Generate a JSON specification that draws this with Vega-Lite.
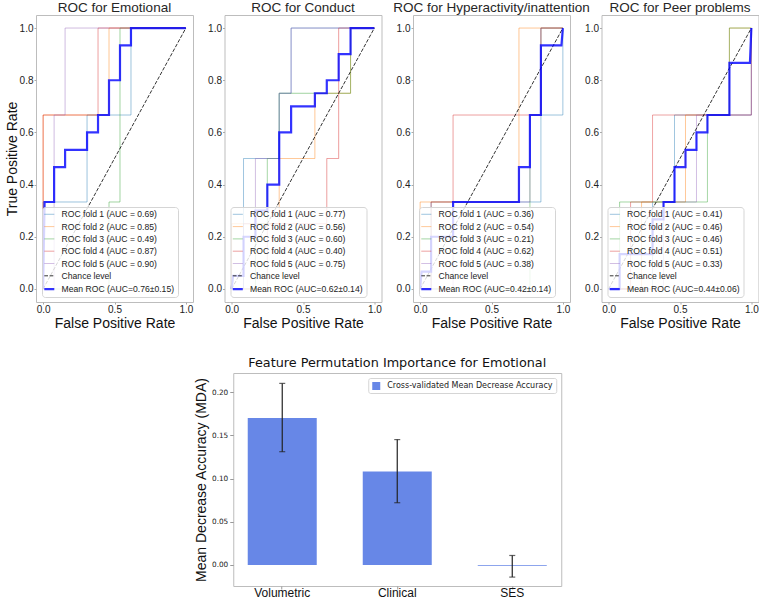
{
  "$schema": "https://vega.github.io/schema/vega-lite/v6.json",
  "background": "white",
  "padding": {"left": 4, "top": 0, "right": 0, "bottom": 0},
  "config": {
    "view": {"stroke": "#bdbdbd", "strokeWidth": 1},
    "axis": {"grid": false, "domain": false, "tickColor": "#aaaaaa", "tickSize": 2, "labelColor": "#222222", "titleColor": "#111111", "titleFontWeight": "normal", "labelFont": "Liberation Sans", "titleFont": "Liberation Sans"},
    "title": {"font": "Liberation Sans", "fontWeight": "normal", "fontSize": 13.5, "color": "#262626", "offset": 1}
  },
  "datasets": {
    "series": [
      {"id": "E1", "p": "E", "k": 1, "s": "ROC fold 1 (AUC = 0.69)"},
      {"id": "E2", "p": "E", "k": 2, "s": "ROC fold 2 (AUC = 0.85)"},
      {"id": "E3", "p": "E", "k": 3, "s": "ROC fold 3 (AUC = 0.49)"},
      {"id": "E4", "p": "E", "k": 4, "s": "ROC fold 4 (AUC = 0.87)"},
      {"id": "E5", "p": "E", "k": 5, "s": "ROC fold 5 (AUC = 0.90)"},
      {"id": "E6", "p": "E", "k": 6, "s": "Chance level"},
      {"id": "E7", "p": "E", "k": 7, "s": "Mean ROC (AUC=0.76±0.15)"},
      {"id": "C1", "p": "C", "k": 1, "s": "ROC fold 1 (AUC = 0.77)"},
      {"id": "C2", "p": "C", "k": 2, "s": "ROC fold 2 (AUC = 0.56)"},
      {"id": "C3", "p": "C", "k": 3, "s": "ROC fold 3 (AUC = 0.60)"},
      {"id": "C4", "p": "C", "k": 4, "s": "ROC fold 4 (AUC = 0.40)"},
      {"id": "C5", "p": "C", "k": 5, "s": "ROC fold 5 (AUC = 0.75)"},
      {"id": "C6", "p": "C", "k": 6, "s": "Chance level"},
      {"id": "C7", "p": "C", "k": 7, "s": "Mean ROC (AUC=0.62±0.14)"},
      {"id": "H1", "p": "H", "k": 1, "s": "ROC fold 1 (AUC = 0.36)"},
      {"id": "H2", "p": "H", "k": 2, "s": "ROC fold 2 (AUC = 0.54)"},
      {"id": "H3", "p": "H", "k": 3, "s": "ROC fold 3 (AUC = 0.21)"},
      {"id": "H4", "p": "H", "k": 4, "s": "ROC fold 4 (AUC = 0.62)"},
      {"id": "H5", "p": "H", "k": 5, "s": "ROC fold 5 (AUC = 0.38)"},
      {"id": "H6", "p": "H", "k": 6, "s": "Chance level"},
      {"id": "H7", "p": "H", "k": 7, "s": "Mean ROC (AUC=0.42±0.14)"},
      {"id": "P1", "p": "P", "k": 1, "s": "ROC fold 1 (AUC = 0.41)"},
      {"id": "P2", "p": "P", "k": 2, "s": "ROC fold 2 (AUC = 0.46)"},
      {"id": "P3", "p": "P", "k": 3, "s": "ROC fold 3 (AUC = 0.46)"},
      {"id": "P4", "p": "P", "k": 4, "s": "ROC fold 4 (AUC = 0.51)"},
      {"id": "P5", "p": "P", "k": 5, "s": "ROC fold 5 (AUC = 0.33)"},
      {"id": "P6", "p": "P", "k": 6, "s": "Chance level"},
      {"id": "P7", "p": "P", "k": 7, "s": "Mean ROC (AUC=0.44±0.06)"}
    ],
    "roc": [
      {"id": "E1", "x": 0, "y": 0}, {"id": "E1", "x": 0, "y": 0.3333}, {"id": "E1", "x": 0.3077, "y": 0.3333}, {"id": "E1", "x": 0.3077, "y": 0.6667}, {"id": "E1", "x": 0.6154, "y": 0.6667}, {"id": "E1", "x": 0.6154, "y": 1}, {"id": "E1", "x": 1, "y": 1},
      {"id": "E2", "x": 0, "y": 0}, {"id": "E2", "x": 0, "y": 0.6667}, {"id": "E2", "x": 0.4615, "y": 0.6667}, {"id": "E2", "x": 0.4615, "y": 1}, {"id": "E2", "x": 1, "y": 1},
      {"id": "E3", "x": 0, "y": 0}, {"id": "E3", "x": 0.4615, "y": 0}, {"id": "E3", "x": 0.4615, "y": 0.3333}, {"id": "E3", "x": 0.5385, "y": 0.3333}, {"id": "E3", "x": 0.5385, "y": 1}, {"id": "E3", "x": 1, "y": 1},
      {"id": "E4", "x": 0, "y": 0}, {"id": "E4", "x": 0, "y": 0.6667}, {"id": "E4", "x": 0.3846, "y": 0.6667}, {"id": "E4", "x": 0.3846, "y": 1}, {"id": "E4", "x": 1, "y": 1},
      {"id": "E5", "x": 0, "y": 0}, {"id": "E5", "x": 0.0769, "y": 0}, {"id": "E5", "x": 0.0769, "y": 0.6667}, {"id": "E5", "x": 0.1538, "y": 0.6667}, {"id": "E5", "x": 0.1538, "y": 1}, {"id": "E5", "x": 1, "y": 1},
      {"id": "E6", "x": 0, "y": 0}, {"id": "E6", "x": 1, "y": 1},
      {"id": "E7", "x": 0, "y": 0}, {"id": "E7", "x": 0.0101, "y": 0.3333}, {"id": "E7", "x": 0.0769, "y": 0.3333}, {"id": "E7", "x": 0.0769, "y": 0.4667}, {"id": "E7", "x": 0.1538, "y": 0.4667}, {"id": "E7", "x": 0.1538, "y": 0.5333}, {"id": "E7", "x": 0.3077, "y": 0.5333}, {"id": "E7", "x": 0.3077, "y": 0.6}, {"id": "E7", "x": 0.3846, "y": 0.6}, {"id": "E7", "x": 0.3846, "y": 0.6667}, {"id": "E7", "x": 0.4615, "y": 0.6667}, {"id": "E7", "x": 0.4615, "y": 0.8}, {"id": "E7", "x": 0.5385, "y": 0.8}, {"id": "E7", "x": 0.5385, "y": 0.9333}, {"id": "E7", "x": 0.6154, "y": 0.9333}, {"id": "E7", "x": 0.6154, "y": 1}, {"id": "E7", "x": 1, "y": 1},

      {"id": "C1", "x": 0, "y": 0}, {"id": "C1", "x": 0.0833, "y": 0}, {"id": "C1", "x": 0.0833, "y": 0.5}, {"id": "C1", "x": 0.3333, "y": 0.5}, {"id": "C1", "x": 0.3333, "y": 0.75}, {"id": "C1", "x": 0.4167, "y": 0.75}, {"id": "C1", "x": 0.4167, "y": 1}, {"id": "C1", "x": 1, "y": 1},
      {"id": "C2", "x": 0, "y": 0}, {"id": "C2", "x": 0, "y": 0.25}, {"id": "C2", "x": 0.3333, "y": 0.25}, {"id": "C2", "x": 0.3333, "y": 0.5}, {"id": "C2", "x": 0.5833, "y": 0.5}, {"id": "C2", "x": 0.5833, "y": 0.75}, {"id": "C2", "x": 0.8333, "y": 0.75}, {"id": "C2", "x": 0.8333, "y": 1}, {"id": "C2", "x": 1, "y": 1},
      {"id": "C3", "x": 0, "y": 0}, {"id": "C3", "x": 0.1667, "y": 0}, {"id": "C3", "x": 0.1667, "y": 0.25}, {"id": "C3", "x": 0.25, "y": 0.25}, {"id": "C3", "x": 0.25, "y": 0.5}, {"id": "C3", "x": 0.3333, "y": 0.5}, {"id": "C3", "x": 0.3333, "y": 0.75}, {"id": "C3", "x": 0.8333, "y": 0.75}, {"id": "C3", "x": 0.8333, "y": 1}, {"id": "C3", "x": 1, "y": 1},
      {"id": "C4", "x": 0, "y": 0}, {"id": "C4", "x": 0.25, "y": 0}, {"id": "C4", "x": 0.25, "y": 0.25}, {"id": "C4", "x": 0.6667, "y": 0.25}, {"id": "C4", "x": 0.6667, "y": 0.5}, {"id": "C4", "x": 0.75, "y": 0.5}, {"id": "C4", "x": 0.75, "y": 1}, {"id": "C4", "x": 1, "y": 1},
      {"id": "C5", "x": 0, "y": 0}, {"id": "C5", "x": 0.0833, "y": 0}, {"id": "C5", "x": 0.0833, "y": 0.25}, {"id": "C5", "x": 0.1667, "y": 0.25}, {"id": "C5", "x": 0.1667, "y": 0.5}, {"id": "C5", "x": 0.3333, "y": 0.5}, {"id": "C5", "x": 0.3333, "y": 0.75}, {"id": "C5", "x": 0.4167, "y": 0.75}, {"id": "C5", "x": 0.4167, "y": 1}, {"id": "C5", "x": 1, "y": 1},
      {"id": "C6", "x": 0, "y": 0}, {"id": "C6", "x": 1, "y": 1},
      {"id": "C7", "x": 0, "y": 0}, {"id": "C7", "x": 0.0101, "y": 0.05}, {"id": "C7", "x": 0.0833, "y": 0.05}, {"id": "C7", "x": 0.0833, "y": 0.2}, {"id": "C7", "x": 0.1667, "y": 0.2}, {"id": "C7", "x": 0.1667, "y": 0.3}, {"id": "C7", "x": 0.25, "y": 0.3}, {"id": "C7", "x": 0.25, "y": 0.4}, {"id": "C7", "x": 0.3333, "y": 0.4}, {"id": "C7", "x": 0.3333, "y": 0.6}, {"id": "C7", "x": 0.4167, "y": 0.6}, {"id": "C7", "x": 0.4167, "y": 0.7}, {"id": "C7", "x": 0.5833, "y": 0.7}, {"id": "C7", "x": 0.5833, "y": 0.75}, {"id": "C7", "x": 0.6667, "y": 0.75}, {"id": "C7", "x": 0.6667, "y": 0.8}, {"id": "C7", "x": 0.75, "y": 0.8}, {"id": "C7", "x": 0.75, "y": 0.9}, {"id": "C7", "x": 0.8333, "y": 0.9}, {"id": "C7", "x": 0.8333, "y": 1}, {"id": "C7", "x": 1, "y": 1},

      {"id": "H1", "x": 0, "y": 0}, {"id": "H1", "x": 0.0769, "y": 0}, {"id": "H1", "x": 0.0769, "y": 0.3333}, {"id": "H1", "x": 0.8462, "y": 0.3333}, {"id": "H1", "x": 0.8462, "y": 0.6667}, {"id": "H1", "x": 1, "y": 0.6667}, {"id": "H1", "x": 1, "y": 1},
      {"id": "H2", "x": 0, "y": 0}, {"id": "H2", "x": 0, "y": 0.3333}, {"id": "H2", "x": 0.6923, "y": 0.3333}, {"id": "H2", "x": 0.6923, "y": 1}, {"id": "H2", "x": 1, "y": 1},
      {"id": "H3", "x": 0, "y": 0}, {"id": "H3", "x": 0.7692, "y": 0}, {"id": "H3", "x": 0.7692, "y": 0.6667}, {"id": "H3", "x": 0.8462, "y": 0.6667}, {"id": "H3", "x": 0.8462, "y": 1}, {"id": "H3", "x": 1, "y": 1},
      {"id": "H4", "x": 0, "y": 0}, {"id": "H4", "x": 0.0769, "y": 0}, {"id": "H4", "x": 0.0769, "y": 0.3333}, {"id": "H4", "x": 0.2308, "y": 0.3333}, {"id": "H4", "x": 0.2308, "y": 0.6667}, {"id": "H4", "x": 0.8462, "y": 0.6667}, {"id": "H4", "x": 0.8462, "y": 1}, {"id": "H4", "x": 1, "y": 1},
      {"id": "H5", "x": 0, "y": 0}, {"id": "H5", "x": 0.2308, "y": 0}, {"id": "H5", "x": 0.2308, "y": 0.3333}, {"id": "H5", "x": 0.7692, "y": 0.3333}, {"id": "H5", "x": 0.7692, "y": 0.6667}, {"id": "H5", "x": 0.8462, "y": 0.6667}, {"id": "H5", "x": 0.8462, "y": 1}, {"id": "H5", "x": 1, "y": 1},
      {"id": "H6", "x": 0, "y": 0}, {"id": "H6", "x": 1, "y": 1},
      {"id": "H7", "x": 0, "y": 0}, {"id": "H7", "x": 0.0101, "y": 0.0667}, {"id": "H7", "x": 0.0769, "y": 0.0667}, {"id": "H7", "x": 0.0769, "y": 0.2}, {"id": "H7", "x": 0.2308, "y": 0.2}, {"id": "H7", "x": 0.2308, "y": 0.3333}, {"id": "H7", "x": 0.6923, "y": 0.3333}, {"id": "H7", "x": 0.6923, "y": 0.4667}, {"id": "H7", "x": 0.7692, "y": 0.4667}, {"id": "H7", "x": 0.7692, "y": 0.6667}, {"id": "H7", "x": 0.8462, "y": 0.6667}, {"id": "H7", "x": 0.8462, "y": 0.9333}, {"id": "H7", "x": 0.9899, "y": 0.9333}, {"id": "H7", "x": 1, "y": 1},

      {"id": "P1", "x": 0, "y": 0}, {"id": "P1", "x": 0.3077, "y": 0}, {"id": "P1", "x": 0.3077, "y": 0.3333}, {"id": "P1", "x": 0.4615, "y": 0.3333}, {"id": "P1", "x": 0.4615, "y": 0.6667}, {"id": "P1", "x": 1, "y": 0.6667}, {"id": "P1", "x": 1, "y": 1},
      {"id": "P2", "x": 0, "y": 0}, {"id": "P2", "x": 0.2308, "y": 0}, {"id": "P2", "x": 0.2308, "y": 0.3333}, {"id": "P2", "x": 0.5385, "y": 0.3333}, {"id": "P2", "x": 0.5385, "y": 0.6667}, {"id": "P2", "x": 0.8462, "y": 0.6667}, {"id": "P2", "x": 0.8462, "y": 1}, {"id": "P2", "x": 1, "y": 1},
      {"id": "P3", "x": 0, "y": 0}, {"id": "P3", "x": 0.0769, "y": 0}, {"id": "P3", "x": 0.0769, "y": 0.3333}, {"id": "P3", "x": 0.6923, "y": 0.3333}, {"id": "P3", "x": 0.6923, "y": 0.6667}, {"id": "P3", "x": 0.8462, "y": 0.6667}, {"id": "P3", "x": 0.8462, "y": 1}, {"id": "P3", "x": 1, "y": 1},
      {"id": "P4", "x": 0, "y": 0}, {"id": "P4", "x": 0.1538, "y": 0}, {"id": "P4", "x": 0.1538, "y": 0.3333}, {"id": "P4", "x": 0.3077, "y": 0.3333}, {"id": "P4", "x": 0.3077, "y": 0.6667}, {"id": "P4", "x": 1, "y": 0.6667}, {"id": "P4", "x": 1, "y": 1},
      {"id": "P5", "x": 0, "y": 0}, {"id": "P5", "x": 0.3846, "y": 0}, {"id": "P5", "x": 0.3846, "y": 0.3333}, {"id": "P5", "x": 0.6154, "y": 0.3333}, {"id": "P5", "x": 0.6154, "y": 0.6667}, {"id": "P5", "x": 1, "y": 0.6667}, {"id": "P5", "x": 1, "y": 1},
      {"id": "P6", "x": 0, "y": 0}, {"id": "P6", "x": 1, "y": 1},
      {"id": "P7", "x": 0, "y": 0}, {"id": "P7", "x": 0.0769, "y": 0}, {"id": "P7", "x": 0.0769, "y": 0.1333}, {"id": "P7", "x": 0.3077, "y": 0.1333}, {"id": "P7", "x": 0.3077, "y": 0.2667}, {"id": "P7", "x": 0.3846, "y": 0.2667}, {"id": "P7", "x": 0.3846, "y": 0.3333}, {"id": "P7", "x": 0.4615, "y": 0.3333}, {"id": "P7", "x": 0.4615, "y": 0.4667}, {"id": "P7", "x": 0.5385, "y": 0.4667}, {"id": "P7", "x": 0.5385, "y": 0.5333}, {"id": "P7", "x": 0.6154, "y": 0.5333}, {"id": "P7", "x": 0.6154, "y": 0.6}, {"id": "P7", "x": 0.6923, "y": 0.6}, {"id": "P7", "x": 0.6923, "y": 0.6667}, {"id": "P7", "x": 0.8462, "y": 0.6667}, {"id": "P7", "x": 0.8462, "y": 0.8667}, {"id": "P7", "x": 0.9899, "y": 0.8667}, {"id": "P7", "x": 1, "y": 1}
    ]
  },
  "vconcat": [
    {
      "hconcat": [
        {
          "width": 157, "height": 287,
          "title": "ROC for Emotional",
          "data": {"name": "roc"},
          "transform": [
            {"lookup": "id", "from": {"data": {"name": "series"}, "key": "id", "fields": ["p", "k", "s"]}},
            {"filter": "datum.p === 'E'"}
          ],
          "mark": {"type": "line"},
          "encoding": {
            "x": {"field": "x", "type": "quantitative", "scale": {"domain": [-0.05, 1.05], "nice": false, "zero": false}, "axis": {"values": [0, 0.5, 1], "format": ".1f", "title": "False Positive Rate", "labelFontSize": 10, "titleFontSize": 14, "labelPadding": 0, "titlePadding": 2}},
            "y": {"field": "y", "type": "quantitative", "scale": {"domain": [-0.05, 1.05], "nice": false, "zero": false}, "axis": {"values": [0, 0.2, 0.4, 0.6, 0.8, 1], "format": ".1f", "title": "True Positive Rate", "labelFontSize": 10, "titleFontSize": 14, "labelPadding": 1, "titlePadding": 0}},
            "color": {"field": "s", "type": "nominal", "sort": {"field": "k", "op": "min"},
              "scale": {"range": ["rgba(31,119,180,0.45)", "rgba(255,127,14,0.45)", "rgba(44,160,44,0.45)", "rgba(214,39,40,0.45)", "rgba(148,103,189,0.45)", "rgba(0,0,0,0.8)", "rgba(0,0,255,0.8)"]},
              "legend": {"title": null, "orient": "none", "legendX": 6, "legendY": 192, "fillColor": "rgba(255,255,255,0.8)", "strokeColor": "#d5d5d5", "cornerRadius": 3, "padding": 3, "rowPadding": 3.3, "symbolType": "stroke", "labelOffset": 8, "labelFont": "Liberation Sans", "labelFontSize": 8.6, "labelColor": "#222222", "labelLimit": 300,
                "encode": {"symbols": {"update": {"strokeWidth": {"signal": "indexof('' + datum.label, 'Mean') === 0 || indexof('' + datum.value, 'Mean') === 0 ? 2.2 : 1"}, "strokeDash": {"signal": "indexof('' + datum.label, 'Chance') === 0 || indexof('' + datum.value, 'Chance') === 0 ? [3.7, 1.6] : [1, 0]"}}}}}},
            "order": [{"field": "x", "type": "quantitative"}, {"field": "y", "type": "quantitative"}],
            "strokeWidth": {"condition": {"test": "datum.k === 7", "value": 2.2}, "value": 1},
            "strokeDash": {"condition": {"test": "datum.k === 6", "value": [3.7, 1.6]}, "value": [1, 0]}
          }
        },
        {
          "width": 157, "height": 287,
          "title": "ROC for Conduct",
          "data": {"name": "roc"},
          "transform": [
            {"lookup": "id", "from": {"data": {"name": "series"}, "key": "id", "fields": ["p", "k", "s"]}},
            {"filter": "datum.p === 'C'"}
          ],
          "mark": {"type": "line"},
          "encoding": {
            "x": {"field": "x", "type": "quantitative", "scale": {"domain": [-0.05, 1.05], "nice": false, "zero": false}, "axis": {"values": [0, 0.5, 1], "format": ".1f", "title": "False Positive Rate", "labelFontSize": 10, "titleFontSize": 14, "labelPadding": 0, "titlePadding": 2}},
            "y": {"field": "y", "type": "quantitative", "scale": {"domain": [-0.05, 1.05], "nice": false, "zero": false}, "axis": {"values": [0, 0.2, 0.4, 0.6, 0.8, 1], "format": ".1f", "title": null, "labelFontSize": 10, "labelPadding": 1}},
            "color": {"field": "s", "type": "nominal", "sort": {"field": "k", "op": "min"},
              "scale": {"range": ["rgba(31,119,180,0.45)", "rgba(255,127,14,0.45)", "rgba(44,160,44,0.45)", "rgba(214,39,40,0.45)", "rgba(148,103,189,0.45)", "rgba(0,0,0,0.8)", "rgba(0,0,255,0.8)"]},
              "legend": {"title": null, "orient": "none", "legendX": 6, "legendY": 192, "fillColor": "rgba(255,255,255,0.8)", "strokeColor": "#d5d5d5", "cornerRadius": 3, "padding": 3, "rowPadding": 3.3, "symbolType": "stroke", "labelOffset": 8, "labelFont": "Liberation Sans", "labelFontSize": 8.6, "labelColor": "#222222", "labelLimit": 300,
                "encode": {"symbols": {"update": {"strokeWidth": {"signal": "indexof('' + datum.label, 'Mean') === 0 || indexof('' + datum.value, 'Mean') === 0 ? 2.2 : 1"}, "strokeDash": {"signal": "indexof('' + datum.label, 'Chance') === 0 || indexof('' + datum.value, 'Chance') === 0 ? [3.7, 1.6] : [1, 0]"}}}}}},
            "order": [{"field": "x", "type": "quantitative"}, {"field": "y", "type": "quantitative"}],
            "strokeWidth": {"condition": {"test": "datum.k === 7", "value": 2.2}, "value": 1},
            "strokeDash": {"condition": {"test": "datum.k === 6", "value": [3.7, 1.6]}, "value": [1, 0]}
          }
        },
        {
          "width": 157, "height": 287,
          "title": "ROC for Hyperactivity/inattention",
          "data": {"name": "roc"},
          "transform": [
            {"lookup": "id", "from": {"data": {"name": "series"}, "key": "id", "fields": ["p", "k", "s"]}},
            {"filter": "datum.p === 'H'"}
          ],
          "mark": {"type": "line"},
          "encoding": {
            "x": {"field": "x", "type": "quantitative", "scale": {"domain": [-0.05, 1.05], "nice": false, "zero": false}, "axis": {"values": [0, 0.5, 1], "format": ".1f", "title": "False Positive Rate", "labelFontSize": 10, "titleFontSize": 14, "labelPadding": 0, "titlePadding": 2}},
            "y": {"field": "y", "type": "quantitative", "scale": {"domain": [-0.05, 1.05], "nice": false, "zero": false}, "axis": {"values": [0, 0.2, 0.4, 0.6, 0.8, 1], "format": ".1f", "title": null, "labelFontSize": 10, "labelPadding": 1}},
            "color": {"field": "s", "type": "nominal", "sort": {"field": "k", "op": "min"},
              "scale": {"range": ["rgba(31,119,180,0.45)", "rgba(255,127,14,0.45)", "rgba(44,160,44,0.45)", "rgba(214,39,40,0.45)", "rgba(148,103,189,0.45)", "rgba(0,0,0,0.8)", "rgba(0,0,255,0.8)"]},
              "legend": {"title": null, "orient": "none", "legendX": 6, "legendY": 192, "fillColor": "rgba(255,255,255,0.8)", "strokeColor": "#d5d5d5", "cornerRadius": 3, "padding": 3, "rowPadding": 3.3, "symbolType": "stroke", "labelOffset": 8, "labelFont": "Liberation Sans", "labelFontSize": 8.6, "labelColor": "#222222", "labelLimit": 300,
                "encode": {"symbols": {"update": {"strokeWidth": {"signal": "indexof('' + datum.label, 'Mean') === 0 || indexof('' + datum.value, 'Mean') === 0 ? 2.2 : 1"}, "strokeDash": {"signal": "indexof('' + datum.label, 'Chance') === 0 || indexof('' + datum.value, 'Chance') === 0 ? [3.7, 1.6] : [1, 0]"}}}}}},
            "order": [{"field": "x", "type": "quantitative"}, {"field": "y", "type": "quantitative"}],
            "strokeWidth": {"condition": {"test": "datum.k === 7", "value": 2.2}, "value": 1},
            "strokeDash": {"condition": {"test": "datum.k === 6", "value": [3.7, 1.6]}, "value": [1, 0]}
          }
        },
        {
          "width": 157, "height": 287,
          "title": "ROC for Peer problems",
          "data": {"name": "roc"},
          "transform": [
            {"lookup": "id", "from": {"data": {"name": "series"}, "key": "id", "fields": ["p", "k", "s"]}},
            {"filter": "datum.p === 'P'"}
          ],
          "mark": {"type": "line"},
          "encoding": {
            "x": {"field": "x", "type": "quantitative", "scale": {"domain": [-0.05, 1.05], "nice": false, "zero": false}, "axis": {"values": [0, 0.5, 1], "format": ".1f", "title": "False Positive Rate", "labelFontSize": 10, "titleFontSize": 14, "labelPadding": 0, "titlePadding": 2}},
            "y": {"field": "y", "type": "quantitative", "scale": {"domain": [-0.05, 1.05], "nice": false, "zero": false}, "axis": {"values": [0, 0.2, 0.4, 0.6, 0.8, 1], "format": ".1f", "title": null, "labelFontSize": 10, "labelPadding": 1}},
            "color": {"field": "s", "type": "nominal", "sort": {"field": "k", "op": "min"},
              "scale": {"range": ["rgba(31,119,180,0.45)", "rgba(255,127,14,0.45)", "rgba(44,160,44,0.45)", "rgba(214,39,40,0.45)", "rgba(148,103,189,0.45)", "rgba(0,0,0,0.8)", "rgba(0,0,255,0.8)"]},
              "legend": {"title": null, "orient": "none", "legendX": 6, "legendY": 192, "fillColor": "rgba(255,255,255,0.8)", "strokeColor": "#d5d5d5", "cornerRadius": 3, "padding": 3, "rowPadding": 3.3, "symbolType": "stroke", "labelOffset": 8, "labelFont": "Liberation Sans", "labelFontSize": 8.6, "labelColor": "#222222", "labelLimit": 300,
                "encode": {"symbols": {"update": {"strokeWidth": {"signal": "indexof('' + datum.label, 'Mean') === 0 || indexof('' + datum.value, 'Mean') === 0 ? 2.2 : 1"}, "strokeDash": {"signal": "indexof('' + datum.label, 'Chance') === 0 || indexof('' + datum.value, 'Chance') === 0 ? [3.7, 1.6] : [1, 0]"}}}}}},
            "order": [{"field": "x", "type": "quantitative"}, {"field": "y", "type": "quantitative"}],
            "strokeWidth": {"condition": {"test": "datum.k === 7", "value": 2.2}, "value": 1},
            "strokeDash": {"condition": {"test": "datum.k === 6", "value": [3.7, 1.6]}, "value": [1, 0]}
          }
        }
      ],
      "spacing": 31.5,
      "bounds": "flush",
      "resolve": {"scale": {"color": "independent"}, "legend": {"color": "independent"}}
    },
    {
      "width": 328, "height": 213,
      "title": {"text": "Feature Permutation Importance for Emotional", "font": "DejaVu Sans", "fontSize": 12.8, "color": "#111111", "offset": 3},
      "data": {"values": [
        {"feature": "Volumetric", "mda": 0.170, "lo": 0.131, "hi": 0.210},
        {"feature": "Clinical", "mda": 0.108, "lo": 0.072, "hi": 0.145},
        {"feature": "SES", "mda": -0.001, "lo": -0.014, "hi": 0.011}
      ]},
      "encoding": {
        "x": {"field": "feature", "type": "nominal", "sort": null, "scale": {"paddingInner": 0.4, "paddingOuter": 0.126}, "axis": {"title": null, "labelAngle": 0, "labelFont": "Liberation Sans", "labelFontSize": 12, "labelColor": "#111111", "tickSize": 3, "tickColor": "#999999", "labelPadding": -2}}
      },
      "layer": [
        {
          "mark": {"type": "bar"},
          "encoding": {
            "y": {"field": "mda", "type": "quantitative", "title": "Mean Decrease Accuracy (MDA)", "scale": {"domain": [-0.0243, 0.222], "nice": false, "zero": false}, "axis": {"values": [0, 0.05, 0.1, 0.15, 0.2], "format": ".2f", "labelFont": "DejaVu Sans", "labelFontSize": 7.3, "labelColor": "#222222", "tickSize": 3.5, "tickColor": "#999999", "labelPadding": 2, "titleFont": "Liberation Sans", "titleFontSize": 14, "titlePadding": 3}},
            "color": {"datum": "Cross-validated Mean Decrease Accuracy", "type": "nominal", "scale": {"range": ["rgba(65,105,225,0.8)"]},
              "legend": {"title": null, "orient": "top-right", "offset": 5, "padding": 3, "fillColor": "white", "strokeColor": "#d5d5d5", "cornerRadius": 2, "symbolType": "square", "symbolSize": 64, "labelOffset": 6, "labelFont": "DejaVu Sans", "labelFontSize": 8, "labelColor": "#222222", "labelLimit": 400}}
          }
        },
        {
          "mark": {"type": "rule", "color": "#222222", "strokeWidth": 1.2},
          "encoding": {"y": {"field": "lo", "type": "quantitative", "title": "Mean Decrease Accuracy (MDA)"}, "y2": {"field": "hi"}}
        },
        {
          "mark": {"type": "tick", "color": "#222222", "size": 6, "thickness": 1.2},
          "encoding": {"y": {"field": "lo", "type": "quantitative", "title": "Mean Decrease Accuracy (MDA)"}}
        },
        {
          "mark": {"type": "tick", "color": "#222222", "size": 6, "thickness": 1.2},
          "encoding": {"y": {"field": "hi", "type": "quantitative", "title": "Mean Decrease Accuracy (MDA)"}}
        }
      ]
    }
  ],
  "spacing": 25,
  "center": true,
  "resolve": {"scale": {"color": "independent"}, "legend": {"color": "independent"}}
}
